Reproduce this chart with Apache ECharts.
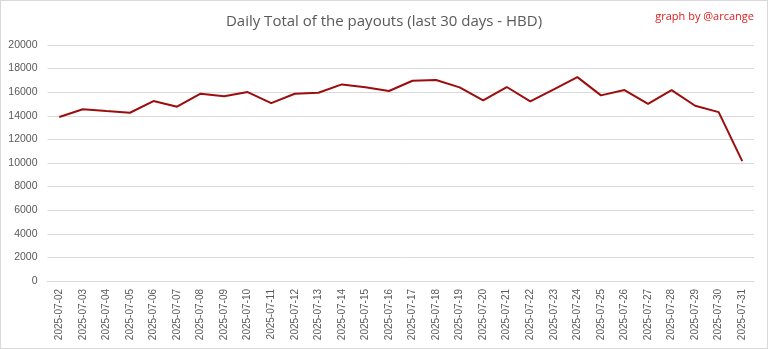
<!DOCTYPE html>
<html>
<head>
<meta charset="utf-8">
<script src="https://cdn.jsdelivr.net/npm/echarts@6/dist/echarts.min.js"></script>
<style>
  html, body { margin: 0; padding: 0; background: #fff; }
  #frame { position: absolute; left: 0; top: 0; width: 766px; height: 347px; border: 1px solid #d9d9d9; background: #fff; }
  #chart { position: absolute; left: 0; top: 0; width: 768px; height: 349px; }
</style>
</head>
<body>
<div id="frame"></div>
<div id="chart"></div>
<script>
// Daily payout totals in HBD
const days = [
  '2025-07-02','2025-07-03','2025-07-04','2025-07-05','2025-07-06','2025-07-07',
  '2025-07-08','2025-07-09','2025-07-10','2025-07-11','2025-07-12','2025-07-13',
  '2025-07-14','2025-07-15','2025-07-16','2025-07-17','2025-07-18','2025-07-19',
  '2025-07-20','2025-07-21','2025-07-22','2025-07-23','2025-07-24','2025-07-25',
  '2025-07-26','2025-07-27','2025-07-28','2025-07-29','2025-07-30','2025-07-31'
];
const payoutsHBD = [
  13900, 14550, 14400, 14260, 15250, 14770,
  15870, 15650, 16010, 15080, 15870, 15950,
  16660, 16410, 16100, 16970, 17030, 16410,
  15310, 16440, 15220, 16240, 17280, 15730,
  16180, 15020, 16180, 14850, 14310, 10160
];
const yMax = 20000;
const yStep = 2000;

const chart = echarts.init(document.getElementById('chart'), null, { renderer: 'canvas' });
const textGrey = '#595959';
chart.setOption({
  backgroundColor: 'transparent',
  animation: false,
  title: [
    {
      text: 'Daily Total of the payouts (last 30 days - HBD)',
      left: 'center', top: 9,
      textStyle: { fontFamily: 'Open Sans', fontWeight: 'normal', fontSize: 15, color: textGrey }
    },
    {
      text: 'graph by @arcange',
      right: 9, top: 6,
      textStyle: { fontFamily: 'Open Sans', fontWeight: 'normal', fontSize: 11, color: '#e0201f' }
    }
  ],
  grid: { left: 47.5, right: 14, top: 45, bottom: 68, containLabel: false },
  xAxis: {
    type: 'category',
    data: days,
    boundaryGap: true,
    axisLine: { lineStyle: { color: '#d9d9d9' } },
    axisTick: { show: false },
    axisLabel: {
      rotate: 90, interval: 0, margin: 8,
      fontFamily: 'Liberation Sans', fontSize: 10, color: textGrey
    },
    splitLine: { show: false }
  },
  yAxis: {
    type: 'value',
    min: 0, max: yMax, interval: yStep,
    axisLine: { show: false },
    axisTick: { show: false },
    axisLabel: {
      fontFamily: 'Liberation Sans', fontSize: 10.5, color: textGrey, margin: 10,
      formatter: v => String(v)
    },
    splitLine: { lineStyle: { color: '#d9d9d9', width: 1 } }
  },
  series: [{
    type: 'line',
    data: payoutsHBD,
    symbol: 'none',
    lineStyle: { color: '#9c0d0d', width: 2 },
    itemStyle: { color: '#9c0d0d' }
  }]
});
</script>
</body>
</html>
